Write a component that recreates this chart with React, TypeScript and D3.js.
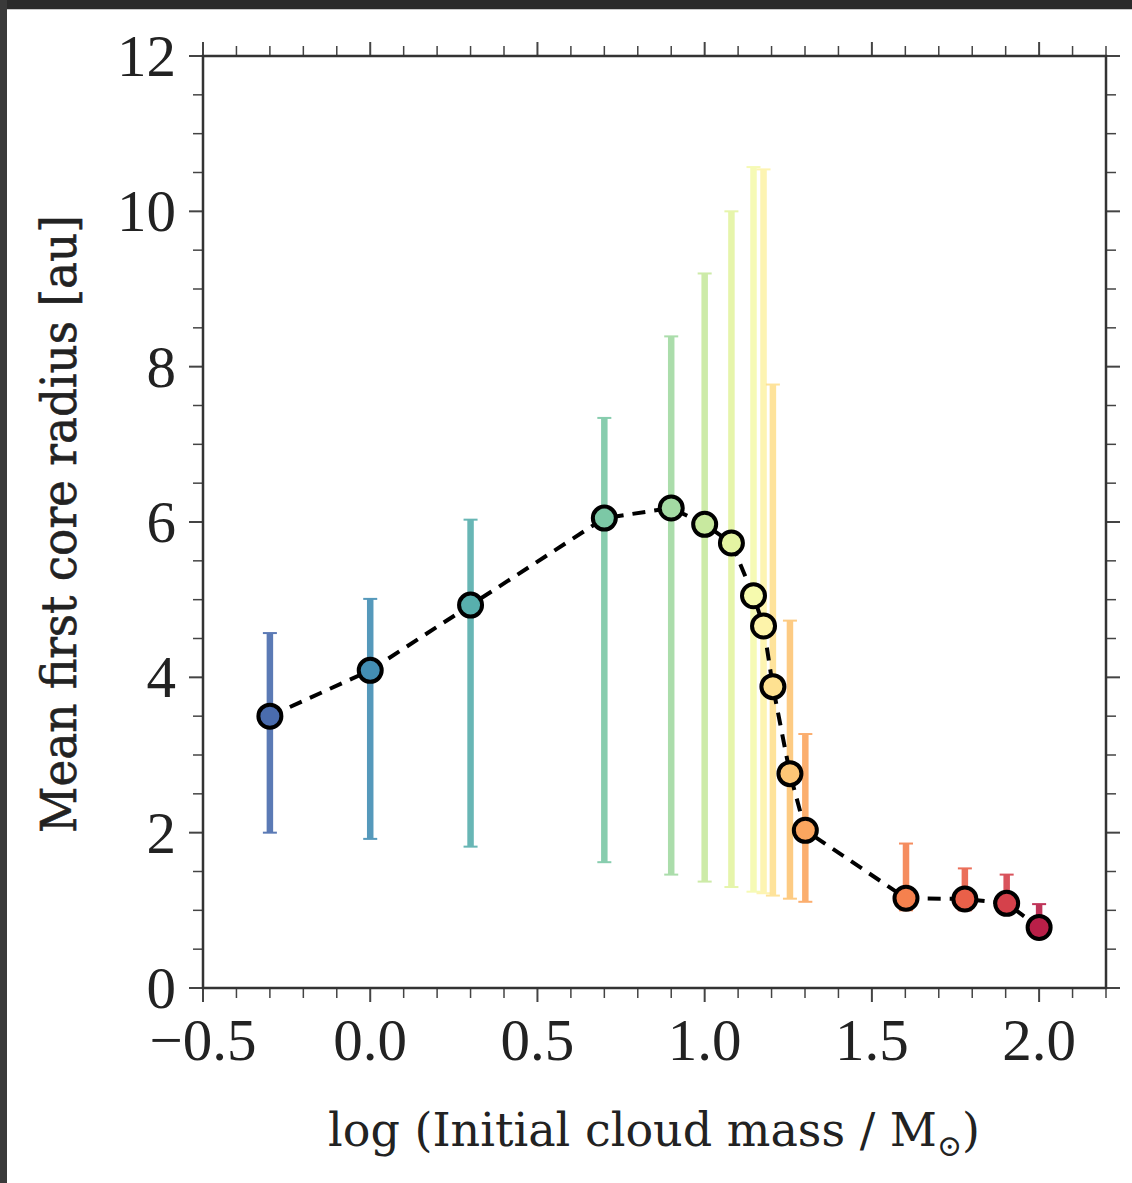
import React from "react";
import * as d3 from "d3";

// log10 of initial cloud mass (Msun)
const logMass = [-0.3, 0.0, 0.3, 0.7, 0.9, 1.0, 1.08, 1.146, 1.176, 1.204, 1.255, 1.301, 1.602, 1.778, 1.903, 2.0];
// mean first core radius [au]
const meanRadius = [3.5, 4.09, 4.93, 6.05, 6.18, 5.97, 5.73, 5.05, 4.66, 3.88, 2.76, 2.03, 1.155, 1.146, 1.09, 0.78];
const errUpper = [4.57, 5.01, 6.03, 7.34, 8.39, 9.2, 10.0, 10.57, 10.54, 7.77, 4.73, 3.27, 1.86, 1.54, 1.46, 1.08];
const errLower = [2.0, 1.92, 1.82, 1.62, 1.46, 1.37, 1.3, 1.24, 1.22, 1.19, 1.15, 1.11, 1.0, 1.0, 0.97, 0.7];

const xMajorTicks = [-0.5, 0.0, 0.5, 1.0, 1.5, 2.0];
const yMajorTicks = [0, 2, 4, 6, 8, 10, 12];

const W = 1132;
const H = 1183;
const L = 203, R = 1106, T = 56, B = 988;

export default function App() {
  const x = d3.scaleLinear().domain([-0.5, 2.2]).range([L, R]);
  const y = d3.scaleLinear().domain([0, 12]).range([B, T]);
  const color = (i: number) => d3.interpolateSpectral(0.95 - 0.06 * i);

  const xMinor = d3.range(-0.5, 2.2001, 0.1).filter(
    (v) => !xMajorTicks.some((m) => Math.abs(m - v) < 1e-6)
  );
  const yMinor = d3.range(0, 12.0001, 0.5).filter(
    (v) => !yMajorTicks.some((m) => Math.abs(m - v) < 1e-6)
  );

  const line = d3
    .line<number>()
    .x((_, i) => x(logMass[i]))
    .y((d) => y(d));

  const tickColor = "#444";
  const tickFont = "'Liberation Serif', 'DejaVu Serif', serif";
  const labelFont = "'DejaVu Serif', 'Liberation Serif', serif";

  return (
    <svg
      width={W}
      height={H}
      viewBox={`0 0 ${W} ${H}`}
      style={{ position: "absolute", left: 0, top: 0, background: "#fff" }}
    >
      <rect x={0} y={0} width={W} height={H} fill="#fff" />
      {/* screenshot frame */}
      <rect x={0} y={0} width={W} height={9} fill="#2b2b2b" />
      <rect x={7} y={9} width={W - 7} height={1} fill="#c8c8c8" />
      <rect x={0} y={0} width={7} height={H} fill="#3a3a3a" />

      {/* error bars */}
      {logMass.map((m, i) => {
        const cx = x(m);
        return (
          <g key={"e" + i} stroke={color(i)} opacity={0.9}>
            <line x1={cx} x2={cx} y1={y(errLower[i])} y2={y(errUpper[i])} strokeWidth={6.5} />
            <line x1={cx - 7} x2={cx + 7} y1={y(errUpper[i])} y2={y(errUpper[i])} strokeWidth={2} />
            <line x1={cx - 7} x2={cx + 7} y1={y(errLower[i])} y2={y(errLower[i])} strokeWidth={2} />
          </g>
        );
      })}

      {/* dashed line */}
      <path
        d={line(meanRadius) || ""}
        fill="none"
        stroke="#000"
        strokeWidth={4}
        strokeDasharray="13 9"
      />

      {/* markers */}
      {logMass.map((m, i) => (
        <circle
          key={"p" + i}
          cx={x(m)}
          cy={y(meanRadius[i])}
          r={11.5}
          fill={color(i)}
          stroke="#000"
          strokeWidth={4}
        />
      ))}

      {/* ticks */}
      <g stroke={tickColor}>
        {xMajorTicks.map((v) => (
          <g key={"xm" + v}>
            <line x1={x(v)} x2={x(v)} y1={B} y2={B + 14} strokeWidth={2} />
            <line x1={x(v)} x2={x(v)} y1={T} y2={T - 14} strokeWidth={2} />
          </g>
        ))}
        {xMinor.map((v, i) => (
          <g key={"xn" + i}>
            <line x1={x(v)} x2={x(v)} y1={B} y2={B + 10} strokeWidth={1.5} />
            <line x1={x(v)} x2={x(v)} y1={T} y2={T - 10} strokeWidth={1.5} />
          </g>
        ))}
        {yMajorTicks.map((v) => (
          <g key={"ym" + v}>
            <line x1={L} x2={L - 14} y1={y(v)} y2={y(v)} strokeWidth={2} />
            <line x1={R} x2={R + 14} y1={y(v)} y2={y(v)} strokeWidth={2} />
          </g>
        ))}
        {yMinor.map((v, i) => (
          <g key={"yn" + i}>
            <line x1={L} x2={L - 10} y1={y(v)} y2={y(v)} strokeWidth={1.5} />
            <line x1={R} x2={R + 10} y1={y(v)} y2={y(v)} strokeWidth={1.5} />
          </g>
        ))}
      </g>

      {/* spines */}
      <rect x={L} y={T} width={R - L} height={B - T} fill="none" stroke="#333" strokeWidth={2.5} />

      {/* tick labels */}
      <g fontFamily={tickFont} fontSize={59} fill="#222">
        {xMajorTicks.map((v) => (
          <text key={"xl" + v} x={x(v)} y={1060} textAnchor="middle">
            {v < 0 ? "\u2212" + Math.abs(v).toFixed(1) : v.toFixed(1)}
          </text>
        ))}
        {yMajorTicks.map((v) => (
          <text key={"yl" + v} x={176} y={y(v) + 20} textAnchor="end">
            {String(v)}
          </text>
        ))}
      </g>

      {/* axis labels */}
      <text
        x={654}
        y={1146}
        textAnchor="middle"
        fontFamily={labelFont}
        fontSize={46}
        fill="#222"
      >
        <tspan>log (Initial cloud mass / M</tspan>
        <tspan fontSize={30} dy={10}>{"\u2299"}</tspan>
        <tspan dy={-10}>)</tspan>
      </text>
      <text
        transform={`translate(76, ${(215 + 833) / 2}) rotate(-90)`}
        textAnchor="middle"
        fontFamily={labelFont}
        fontSize={48}
        fill="#222"
        stroke="#222"
        strokeWidth={0.6}
        textLength={618}
        lengthAdjust="spacingAndGlyphs"
      >
        Mean first core radius [au]
      </text>
    </svg>
  );
}
